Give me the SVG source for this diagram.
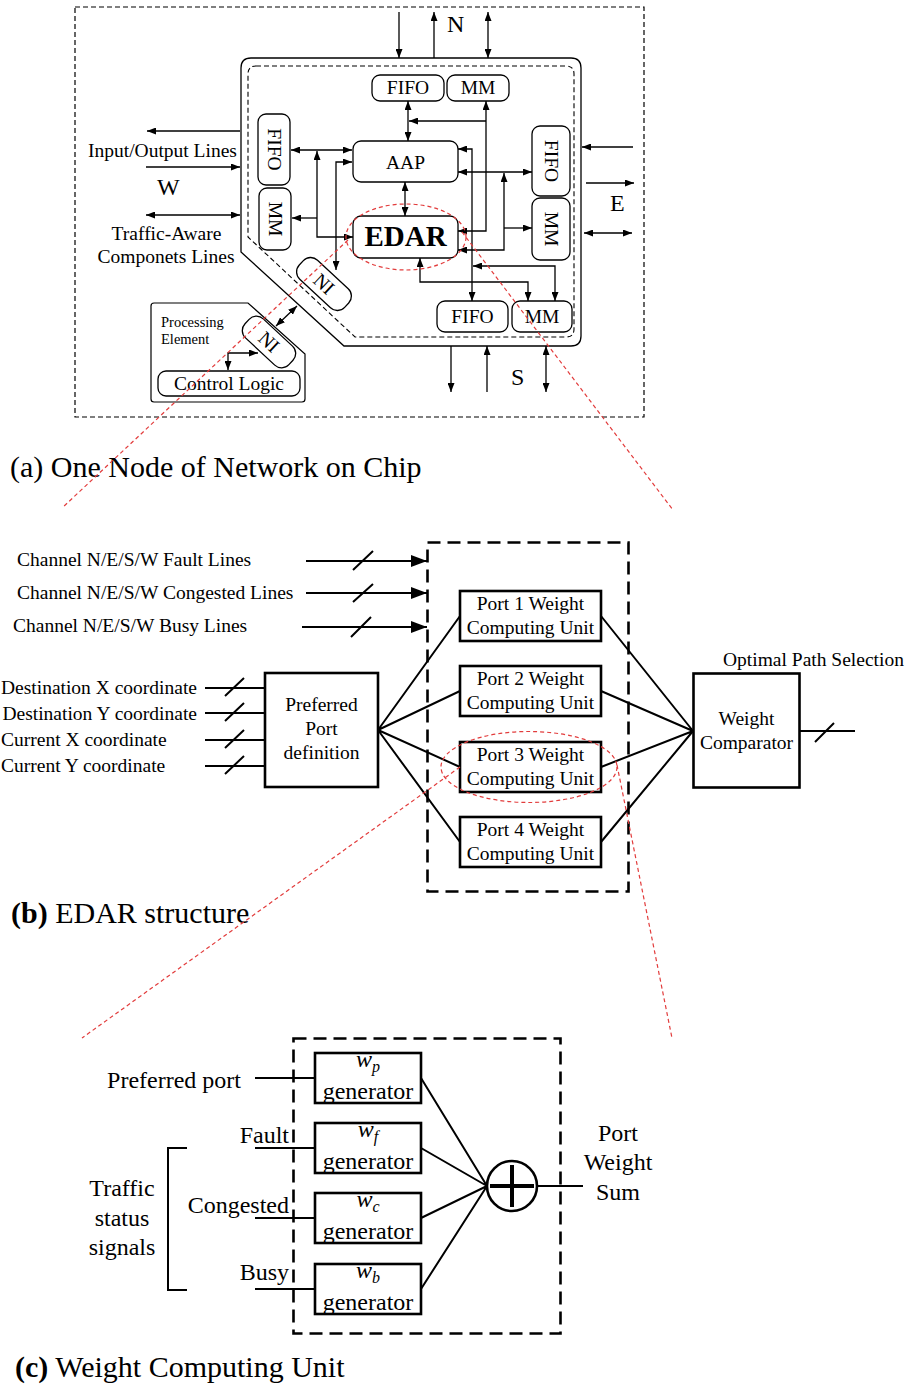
<svg xmlns="http://www.w3.org/2000/svg" width="909" height="1387" viewBox="0 0 909 1387">
<style>
text{font-family:"Liberation Serif","Times New Roman",serif;fill:#000}
.t19{font-size:19.5px}
.t24{font-size:24px}
.cap{font-size:30px}
.bx{fill:#fff;stroke:#000;stroke-width:1.3}
.ln{fill:none;stroke:#000;stroke-width:1.3}
.a1{marker-end:url(#ah)}
.a2{marker-start:url(#ah);marker-end:url(#ah)}
.bb{fill:#fff;stroke:#000;stroke-width:2.6}
.bl{fill:none;stroke:#000;stroke-width:2}
.dash{fill:none;stroke:#000;stroke-width:2.6;stroke-dasharray:13,7}
.red{fill:none;stroke:#e23c3c;stroke-width:1.2;stroke-dasharray:4,3}
.mid{text-anchor:middle}
.end{text-anchor:end}
</style>
<defs>
<marker id="ah" viewBox="0 0 9 7" refX="9" refY="3.5" markerWidth="9" markerHeight="7" markerUnits="userSpaceOnUse" orient="auto-start-reverse" preserveAspectRatio="none"><path d="M0,0 L9,3.5 L0,7 z" fill="#000"/></marker>
<marker id="bh" viewBox="0 0 16 12" refX="16" refY="6" markerWidth="16" markerHeight="12" markerUnits="userSpaceOnUse" orient="auto" preserveAspectRatio="none"><path d="M0,0 L16,6 L0,12 z" fill="#000"/></marker>
</defs>
<rect width="909" height="1387" fill="#fff"/>

<!-- ================= (a) ================= -->
<g id="node-frame">
<rect x="75" y="7" width="569" height="410" fill="none" stroke="#000" stroke-width="1.2" stroke-dasharray="5,3"/>
</g>
<g id="router">
<path d="M251,58 H571 Q581,58 581,68 V336 Q581,346 571,346 H344 L241,252 V68 Q241,58 251,58 Z" fill="none" stroke="#000" stroke-width="1.3"/>
<path d="M256,66 H566 Q574,66 574,74 V329 Q574,337 566,337 H355 L248,237 V74 Q248,66 256,66 Z" fill="none" stroke="#000" stroke-width="1.1" stroke-dasharray="5,3"/>
</g>
<g id="fifo-n"><rect class="bx" x="372" y="75" width="72" height="26" rx="8"/><text class="t19 mid" x="408" y="94">FIFO</text></g>
<g id="mm-n"><rect class="bx" x="447" y="75" width="62" height="26" rx="8"/><text class="t19 mid" x="478" y="94">MM</text></g>
<g id="aap"><rect class="bx" x="353" y="141" width="105" height="41" rx="8"/><text class="t19 mid" x="405.5" y="168.5">AAP</text></g>
<g id="edar"><rect class="bx" x="353" y="216" width="105" height="42" rx="8"/><text class="mid" x="405.5" y="246" font-size="29" font-weight="bold">EDAR</text></g>
<g id="fifo-w"><rect class="bx" x="258" y="114" width="32" height="71" rx="8"/><text class="t19 mid" transform="translate(274,149.5) rotate(90)" y="6.5">FIFO</text></g>
<g id="mm-w"><rect class="bx" x="259" y="188" width="32" height="62" rx="8"/><text class="t19 mid" transform="translate(275,219) rotate(90)" y="6.5">MM</text></g>
<g id="fifo-e"><rect class="bx" x="532" y="126" width="38" height="70" rx="8"/><text class="t19 mid" transform="translate(551,161) rotate(90)" y="6.5">FIFO</text></g>
<g id="mm-e"><rect class="bx" x="532" y="198" width="38" height="62" rx="8"/><text class="t19 mid" transform="translate(551,229) rotate(90)" y="6.5">MM</text></g>
<g id="fifo-s"><rect class="bx" x="437" y="301" width="71" height="31" rx="8"/><text class="t19 mid" x="472.5" y="322.5">FIFO</text></g>
<g id="mm-s"><rect class="bx" x="512" y="301" width="60" height="31" rx="8"/><text class="t19 mid" x="542" y="322.5">MM</text></g>
<g id="ni-router" transform="translate(324,284) rotate(43)"><rect class="bx" x="-31" y="-13" width="62" height="26" rx="10"/><text class="t19 mid" y="6.5">NI</text></g>
<g id="processing-element">
<path d="M154,303 H248 L305,354 V399 Q305,402 302,402 H154 Q151,402 151,399 V306 Q151,303 154,303 Z" fill="#fff" stroke="#000" stroke-width="1.2"/>
<text x="161" y="327" font-size="14.5">Processing</text>
<text x="161" y="344" font-size="14.5">Element</text>
</g>
<g id="ni-pe" transform="translate(269,342) rotate(43)"><rect class="bx" x="-30" y="-13" width="60" height="26" rx="10"/><text class="t19 mid" y="6.5">NI</text></g>
<g id="control-logic"><rect class="bx" x="158" y="371" width="142" height="25" rx="8"/><text class="t19 mid" x="229" y="390">Control Logic</text></g>

<g id="labels-a">
<text class="t19" x="88" y="157">Input/Output Lines</text>
<text x="157" y="195" font-size="24">W</text>
<text class="t19 mid" x="166.5" y="240">Traffic-Aware</text>
<text class="t19 mid" x="166" y="263">Componets Lines</text>
<text x="447" y="32" font-size="24">N</text>
<text x="610" y="211" font-size="24">E</text>
<text x="511" y="385" font-size="24">S</text>
</g>

<g id="connectors-a">
<path class="ln a1" d="M399,12 V58"/>
<path class="ln a1" d="M434,58 V12"/>
<path class="ln a2" d="M488,12 V58"/>
<path class="ln a1" d="M240,131 H147"/>
<path class="ln a1" d="M146,167 H240"/>
<path class="ln a2" d="M146,215 H240"/>
<path class="ln a1" d="M633,147 H582"/>
<path class="ln a1" d="M586,183 H634"/>
<path class="ln a2" d="M584,233 H632"/>
<path class="ln a1" d="M451,346 V392"/>
<path class="ln a1" d="M487,392 V346"/>
<path class="ln a2" d="M546,346 V392"/>
<path class="ln a2" d="M408,101 V141"/>
<path class="ln a2" d="M486,101 V231 H458"/>
<path class="ln a1" d="M486,121 H409"/>
<path class="ln a2" d="M458,149 H472 V301"/>
<path class="ln a2" d="M458,172 H532"/>
<path class="ln a2" d="M458,250 H504 V173"/>
<path class="ln a1" d="M504,228 H532"/>
<path class="ln a2" d="M420,258 V282 H528 V301"/>
<path class="ln a2" d="M473,266 H555 V301"/>
<path class="ln a2" d="M291,150 H352"/>
<path class="ln a2" d="M317,151 V237 H353"/>
<path class="ln a1" d="M317,218 H292"/>
<path class="ln a2" d="M352,162 H336 V270"/>
<path class="ln a2" d="M405,182 V216"/>
<path class="ln a2" d="M228,370 V353 H258"/>
<path class="ln a2" d="M276,326 L297,306"/>
</g>

<text id="caption-a" class="cap" x="10" y="477">(a) One Node of Network on Chip</text>

<!-- ================= (b) ================= -->
<g id="edar-frame"><rect class="dash" x="427.5" y="542.5" width="201" height="349"/></g>
<g id="port1"><rect class="bb" x="460" y="591" width="141" height="50"/><text class="t19 mid" x="530.5" y="610">Port 1 Weight</text><text class="t19 mid" x="530.5" y="634">Computing Unit</text></g>
<g id="port2"><rect class="bb" x="460" y="666" width="141" height="50"/><text class="t19 mid" x="530.5" y="685">Port 2 Weight</text><text class="t19 mid" x="530.5" y="709">Computing Unit</text></g>
<g id="port3"><rect class="bb" x="460" y="742" width="141" height="50"/><text class="t19 mid" x="530.5" y="761">Port 3 Weight</text><text class="t19 mid" x="530.5" y="785">Computing Unit</text></g>
<g id="port4"><rect class="bb" x="460" y="817" width="141" height="50"/><text class="t19 mid" x="530.5" y="836">Port 4 Weight</text><text class="t19 mid" x="530.5" y="860">Computing Unit</text></g>
<g id="ppd"><rect class="bb" x="265" y="673" width="113" height="114"/><text class="t19 mid" x="321.5" y="711">Preferred</text><text class="t19 mid" x="321.5" y="735">Port</text><text class="t19 mid" x="321.5" y="759">definition</text></g>
<g id="comparator"><rect class="bb" x="693.5" y="673.5" width="106" height="114"/><text class="t19 mid" x="746.5" y="725">Weight</text><text class="t19 mid" x="746.5" y="749">Comparator</text></g>

<g id="labels-b">
<text class="t19" x="17" y="566">Channel N/E/S/W Fault Lines</text>
<text class="t19" x="17" y="599">Channel N/E/S/W Congested Lines</text>
<text class="t19" x="13" y="632">Channel N/E/S/W Busy Lines</text>
<text class="t19 end" x="197" y="694">Destination X coordinate</text>
<text class="t19 end" x="197" y="720">Destination Y coordinate</text>
<text class="t19" x="1" y="746">Current X coordinate</text>
<text class="t19" x="1" y="772">Current Y coordinate</text>
<text class="t19" x="723" y="666">Optimal Path Selection</text>
</g>

<g id="connectors-b">
<path class="bl" d="M306,561 H427" marker-end="url(#bh)"/>
<path class="bl" d="M306,593 H427" marker-end="url(#bh)"/>
<path class="bl" d="M302,627 H427" marker-end="url(#bh)"/>
<path class="bl" d="M353,570 L373,551 M353,602 L373,584 M351,637 L371,617"/>
<path class="bl" d="M205,688 H265 M205,713 H265 M205,740 H265 M205,766 H265"/>
<path class="bl" d="M225,696 L244,678 M225,721 L244,703 M225,748 L244,730 M225,774 L244,756"/>
<path class="bl" d="M378,730 L460,616 M378,730 L460,691 M378,730 L460,767 M378,730 L460,842"/>
<path class="bl" d="M601,616 L693,731 M601,691 L693,731 M601,767 L693,731 M601,842 L693,731"/>
<path class="bl" d="M799,731 H855 M815,742 L834,723"/>
</g>

<text id="caption-b" class="cap" x="11" y="923"><tspan font-weight="bold">(b)</tspan> EDAR structure</text>

<!-- ================= (c) ================= -->
<g id="wcu-frame"><rect class="dash" x="293.5" y="1038.5" width="267" height="295"/></g>
<g id="gen-p"><rect class="bb" x="315" y="1053" width="106" height="50"/><text class="t24 mid" x="368" y="1067"><tspan font-style="italic">w</tspan><tspan font-style="italic" font-size="16" dy="5">p</tspan></text><text class="t24 mid" x="368" y="1099">generator</text></g>
<g id="gen-f"><rect class="bb" x="315" y="1123" width="106" height="50"/><text class="t24 mid" x="368" y="1137"><tspan font-style="italic">w</tspan><tspan font-style="italic" font-size="16" dy="5">f</tspan></text><text class="t24 mid" x="368" y="1169">generator</text></g>
<g id="gen-c"><rect class="bb" x="315" y="1193" width="106" height="50"/><text class="t24 mid" x="368" y="1207"><tspan font-style="italic">w</tspan><tspan font-style="italic" font-size="16" dy="5">c</tspan></text><text class="t24 mid" x="368" y="1239">generator</text></g>
<g id="gen-b"><rect class="bb" x="315" y="1264" width="106" height="50"/><text class="t24 mid" x="368" y="1278"><tspan font-style="italic">w</tspan><tspan font-style="italic" font-size="16" dy="5">b</tspan></text><text class="t24 mid" x="368" y="1310">generator</text></g>
<g id="adder"><circle cx="512" cy="1186" r="25" fill="#fff" stroke="#000" stroke-width="2.6"/><path d="M490,1186 H534 M512,1165 V1207" stroke="#000" stroke-width="4"/></g>

<g id="labels-c">
<text class="t24 end" x="241" y="1088">Preferred port</text>
<text class="t24 end" x="289" y="1143">Fault</text>
<text class="t24 end" x="289" y="1213">Congested</text>
<text class="t24 end" x="289" y="1280">Busy</text>
<text class="t24 mid" x="122" y="1196">Traffic</text>
<text class="t24 mid" x="122" y="1226">status</text>
<text class="t24 mid" x="122" y="1255">signals</text>
<text class="t24 mid" x="618" y="1141">Port</text>
<text class="t24 mid" x="618" y="1170">Weight</text>
<text class="t24 mid" x="618" y="1200">Sum</text>
</g>

<g id="connectors-c">
<path class="bl" d="M255,1078 H315 M255,1148 H315 M255,1218 H315 M255,1289 H315"/>
<path class="bl" d="M421,1078 L487,1186 M421,1148 L487,1186 M421,1218 L487,1186 M421,1289 L487,1186"/>
<path class="bl" d="M537,1186 H583"/>
<path class="bl" d="M187,1148 H168 V1290 H187"/>
</g>

<text id="caption-c" class="cap" x="15" y="1377"><tspan font-weight="bold">(c)</tspan> Weight Computing Unit</text>

<!-- zoom callouts -->
<g id="callouts">
<ellipse class="red" cx="406" cy="237" rx="60" ry="33"/>
<path class="red" d="M348,240 L62,508 M462,232 L673,510"/>
<ellipse class="red" cx="529" cy="767" rx="88" ry="35.5"/>
<path class="red" d="M460,767 L82,1038 M617,765 L672,1038"/>
</g>
</svg>
